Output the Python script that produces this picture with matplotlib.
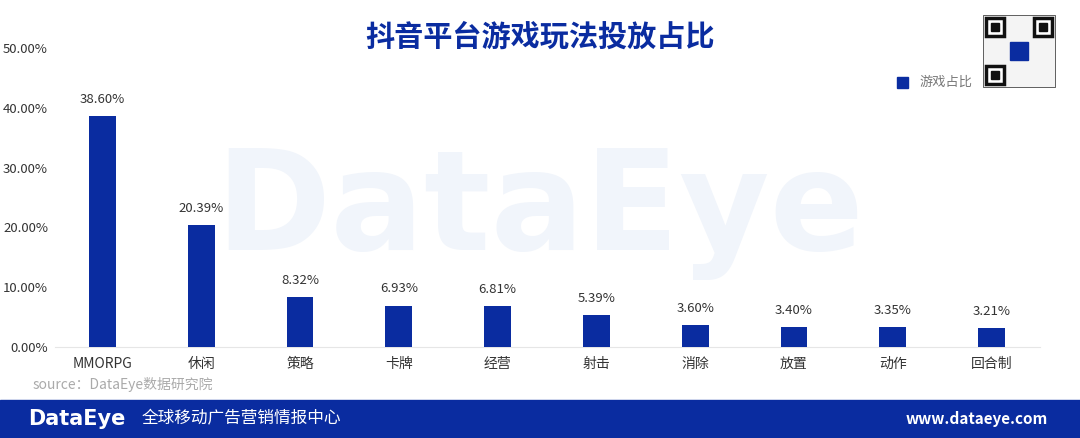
import matplotlib
matplotlib.use("Agg")
from matplotlib import pyplot as plt
from matplotlib.patches import Rectangle

plt.rcParams['font.family'] = ['Noto Sans CJK SC', 'DejaVu Sans']

categories = ["MMORPG", "休闲", "策略", "卡牌", "经营", "射击", "消除", "放置", "动作", "回合制"]
values = [38.60, 20.39, 8.32, 6.93, 6.81, 5.39, 3.60, 3.40, 3.35, 3.21]
yticks = [0, 10, 20, 30, 40, 50]

blue = "#0a2ca0"

fig = plt.figure(figsize=(10.8, 4.38), dpi=100)
W, H = 1080, 438
# axes: left 55px, right 1040px, top 48px, bottom 347px
ax = fig.add_axes([55 / W, 1 - 347 / H, (1040 - 55) / W, (347 - 48) / H])

# watermark
fig.text(540 / W, 1 - 212 / H, "DataEye", fontsize=100, fontweight="bold",
         color="#f1f5fb", ha="center", va="center", family="DejaVu Sans", zorder=0)

x = list(range(len(categories)))
ax.bar(x, values, width=0.27, color=blue, zorder=3)
for xi, v in zip(x, values):
    ax.text(xi, v + 1.7, f"{v:.2f}%", ha="center", va="bottom", fontsize=9.5, color="#333333")

ax.set_xlim(-0.48, 9.49)
ax.set_ylim(0, 50)
ax.set_yticks(yticks)
ax.set_yticklabels([f"{t:.2f}%" for t in yticks], fontsize=9.5, color="#333333")
ax.set_xticks(x)
ax.set_xticklabels(categories, fontsize=10, color="#333333")
ax.tick_params(length=0, pad=7)
ax.tick_params(axis="y", pad=5)
for s in ["top", "right", "left"]:
    ax.spines[s].set_visible(False)
ax.spines["bottom"].set_color("#e6e6e6")
ax.patch.set_alpha(0)

# title
fig.text(540 / W, 1 - 37 / H, "抖音平台游戏玩法投放占比", fontsize=21, fontweight="bold",
         color=blue, ha="center", va="center")

# legend
fig.patches.append(Rectangle((897 / W, 1 - 88 / H), 11 / W, 11 / H, color=blue,
                             transform=fig.transFigure, figure=fig))
fig.text(920 / W, 1 - 82 / H, "游戏占比", fontsize=9.5, color="#777777", va="center")

# qr placeholder
qx, qy, qs = 983, 15, 72
fig.patches.append(Rectangle((qx / W, 1 - (qy + qs) / H), qs / W, qs / H, facecolor="#f4f4f4",
                             edgecolor="#222222", lw=0.5, transform=fig.transFigure, figure=fig))
for fx, fy in [(qx + 3, qy + 3), (qx + qs - 21, qy + 3), (qx + 3, qy + qs - 21)]:
    fig.patches.append(Rectangle((fx / W, 1 - (fy + 18) / H), 18 / W, 18 / H, facecolor="white",
                                 edgecolor="#111111", lw=2.5, transform=fig.transFigure, figure=fig))
    fig.patches.append(Rectangle(((fx + 5) / W, 1 - (fy + 13) / H), 8 / W, 8 / H,
                                 color="#111111", transform=fig.transFigure, figure=fig))
fig.patches.append(Rectangle(((qx + 27) / W, 1 - (qy + 45) / H), 18 / W, 18 / H,
                             color=blue, transform=fig.transFigure, figure=fig))

# source
fig.text(33 / W, 1 - 385 / H, "source：DataEye数据研究院", fontsize=10, color="#aaaaaa",
         style="italic", va="center")

# footer band
fig.patches.append(Rectangle((0, 0), 1, 38 / H, color=blue, transform=fig.transFigure,
                             figure=fig, zorder=0))
fig.text(28 / W, 19 / H, "DataEye", fontsize=15, fontweight="bold", color="white",
         va="center", family="DejaVu Sans")
fig.text(142 / W, 19 / H, "全球移动广告营销情报中心", fontsize=12, color="white", va="center")
fig.text(1048 / W, 19 / H, "www.dataeye.com", fontsize=11, fontweight="bold", color="white",
         va="center", ha="right")

fig.savefig("out.png", dpi=100)
